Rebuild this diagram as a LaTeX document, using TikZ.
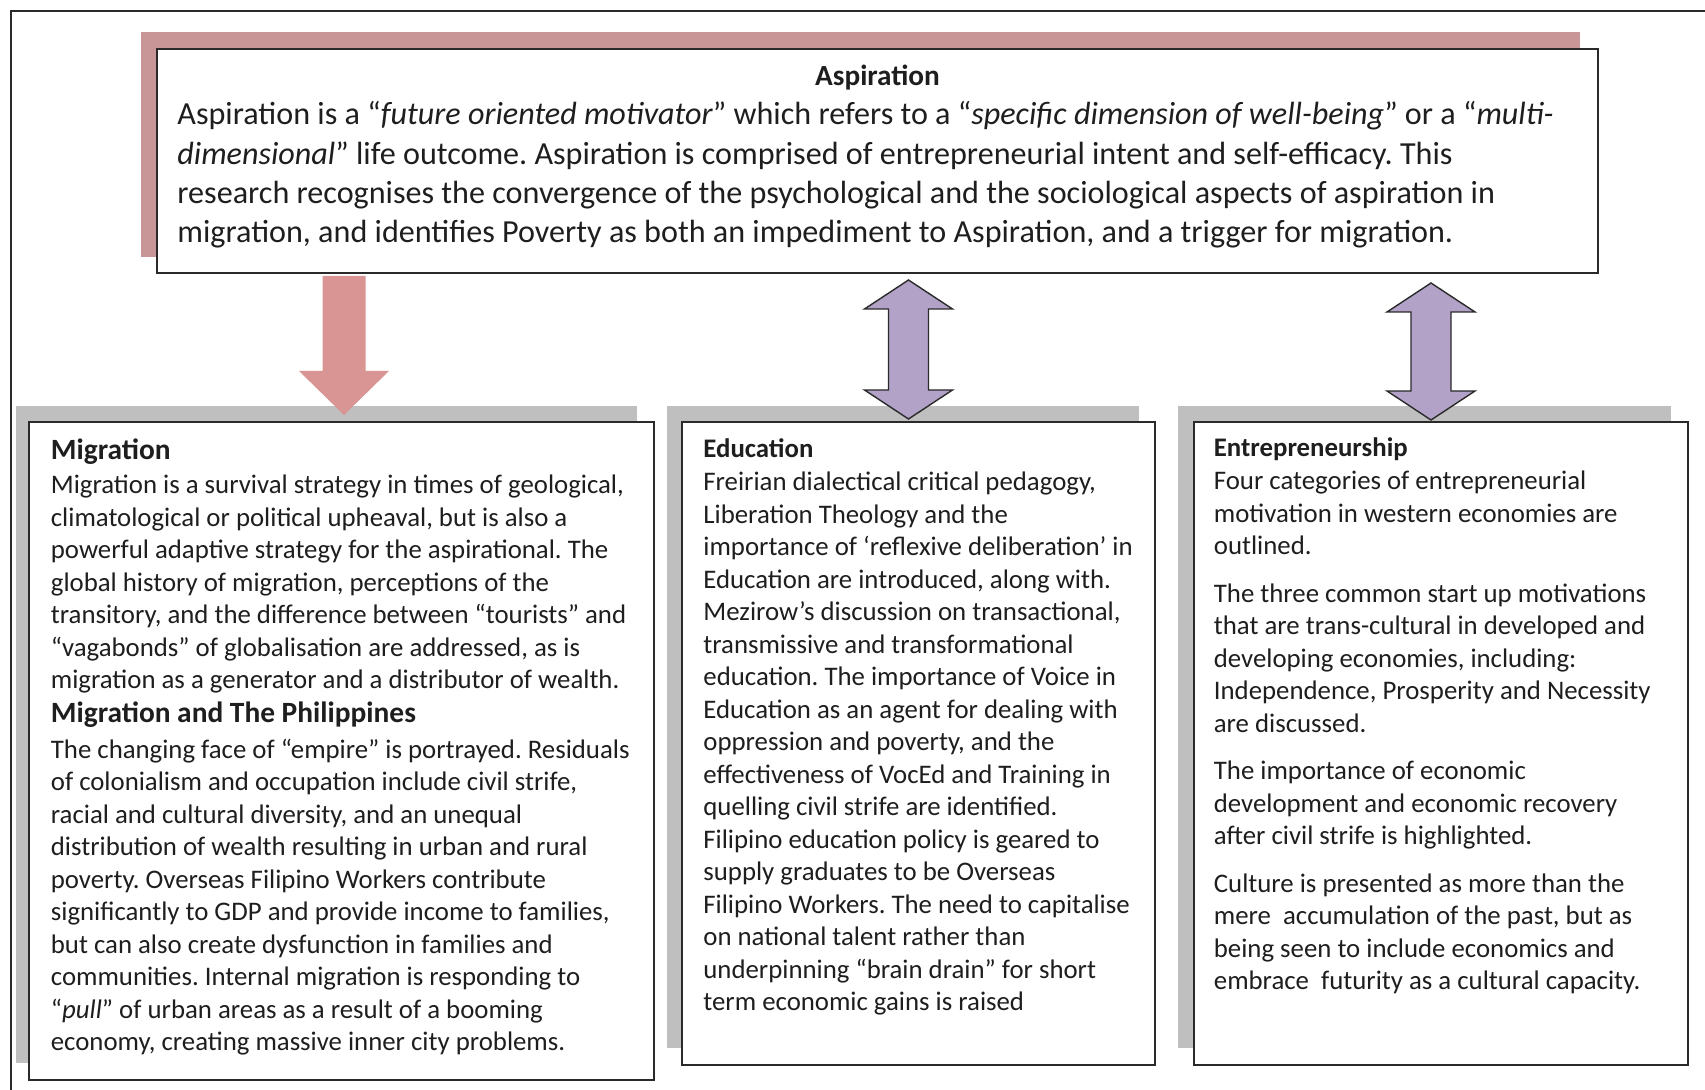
\documentclass[tikz,border=0pt]{standalone}
\usepackage{fontspec}
\setmainfont{Carlito}
\usetikzlibrary{calc,fit}
\frenchspacing

\definecolor{ink}{HTML}{1E1E1E}
\definecolor{frame}{HTML}{2A2A2A}
\definecolor{roseshadow}{HTML}{C99698}
\definecolor{rosearrow}{HTML}{D99594}
\definecolor{lilac}{HTML}{B3A2C7}
\definecolor{greyshadow}{HTML}{BFBFBF}

\newcommand\bodysize{\fontsize{13.4pt}{16.25pt}\selectfont}
\newcommand\headsize{\fontsize{14.7pt}{17.8pt}\selectfont\bfseries}
\newcommand\aspsize{\fontsize{16.07pt}{19.6pt}\selectfont}
\newcommand\linesbox[2]{\begin{minipage}[t]{#1}\raggedright\frenchspacing\noindent #2\end{minipage}}

% two-headed block arrow between a top tip and a bottom tip
\newcommand\lilacarrow[2]{%
  \draw[lilacblock] (#1) -- ($(#1)+(44,29)$) -- ($(#1)+(20,29)$)
    -- ($(#2)+(20,-29)$) -- ($(#2)+(44,-29)$) -- (#2)
    -- ($(#2)+(-44,-29)$) -- ($(#2)+(-20,-29)$)
    -- ($(#1)+(-20,29)$) -- ($(#1)+(-44,29)$) -- cycle;}

\begin{document}
\begin{tikzpicture}[x=0.5pt,y=-0.5pt,
  panel/.style={draw=frame, line width=1pt, fill=white, inner sep=0pt},
  lilacblock/.style={fill=lilac, draw=frame, line width=0.7pt, line join=miter},
  roseblock/.style={fill=rosearrow},
  txt/.style={anchor=base west, inner sep=0pt, text=ink},
  title/.style={anchor=base west, inner sep=0pt, text=ink, font=\headsize},
  subtitle/.style={anchor=base west, inner sep=0pt, text=ink, font=\bodysize\bfseries}]

\path[use as bounding box, fill=white] (0,0) rectangle (1705,1090);

% page frame (only top and left edges fall inside the page)
\draw[frame, line width=1pt] (10.5,1090) -- (10.5,11) -- (1705,11);

% ---------- Aspiration ----------
\fill[roseshadow] (141,32) rectangle (1580,257);
\node[panel, fit={(157,49) (1598,273)}] (asp) {};
\node[anchor=base, inner sep=0pt, text=ink, font=\fontsize{14.6pt}{17pt}\selectfont\bfseries]
  (asptitle) at (877.5,86) {Aspiration};
\node[txt, font=\aspsize] (asptext) at (177,125) {\linesbox{730pt}{%
Aspiration is a “\textit{future oriented motivator}” which refers to a “\textit{specific dimension of well-being}” or a “\textit{multi-}\\
\textit{dimensional}” life outcome. Aspiration is comprised of entrepreneurial intent and self-efficacy. This\\
research recognises the convergence of the psychological and the sociological aspects of aspiration in\\
migration, and identifies Poverty as both an impediment to Aspiration, and a trigger for migration.}};

% ---------- lower panels ----------
\fill[greyshadow] (16,406) rectangle (637,1063);
\fill[greyshadow] (667,406) rectangle (1139,1048);
\fill[greyshadow] (1178,406) rectangle (1671,1048);

\node[panel, fit={(29,422) (654,1080)}] (mig) {};
\node[panel, fit={(682,422) (1155,1065)}] (edu) {};
\node[panel, fit={(1194,422) (1688,1065)}] (ent) {};

% Migration
\node[title] (migtitle) at (50.5,460) {Migration};
\node[txt, font=\bodysize] (migtext) at (50.5,494) {\linesbox{380pt}{%
Migration is a survival strategy in times of geological,\\
climatological or political upheaval, but is also a\\
powerful adaptive strategy for the aspirational. The\\
global history of migration, perceptions of the\\
transitory, and the difference between “tourists” and\\
“vagabonds” of globalisation are addressed, as is\\
migration as a generator and a distributor of wealth.}};
\node[title] (phltitle) at (50.5,723) {Migration and The Philippines};
\node[txt, font=\bodysize] (phltext) at (50.5,758.5) {\linesbox{380pt}{%
The changing face of “empire” is portrayed. Residuals\\
of colonialism and occupation include civil strife,\\
racial and cultural diversity, and an unequal\\
distribution of wealth resulting in urban and rural\\
poverty. Overseas Filipino Workers contribute\\
significantly to GDP and provide income to families,\\
but can also create dysfunction in families and\\
communities. Internal migration is responding to\\
“\textit{pull}” of urban areas as a result of a booming\\
economy, creating massive inner city problems.}};

% Education
\node[subtitle] (edutitle) at (703,457.5) {Education};
\node[txt, font=\bodysize] (edutext) at (703,491) {\linesbox{300pt}{%
Freirian dialectical critical pedagogy,\\
Liberation Theology and the\\
importance of ‘reflexive deliberation’ in\\
Education are introduced, along with.\\
Mezirow’s discussion on transactional,\\
transmissive and transformational\\
education. The importance of Voice in\\
Education as an agent for dealing with\\
oppression and poverty, and the\\
effectiveness of VocEd and Training in\\
quelling civil strife are identified.\\
Filipino education policy is geared to\\
supply graduates to be Overseas\\
Filipino Workers. The need to capitalise\\
on national talent rather than\\
underpinning “brain drain” for short\\
term economic gains is raised}};

% Entrepreneurship
\node[subtitle] (enttitle) at (1213.5,457) {Entrepreneurship};
\node[txt, font=\bodysize] (enttext) at (1213.5,490) {\linesbox{300pt}{%
Four categories of entrepreneurial\\
motivation in western economies are\\
outlined.\\[7.5pt]
The three common start up motivations\\
that are trans-cultural in developed and\\
developing economies, including:\\
Independence, Prosperity and Necessity\\
are discussed.\\[7.5pt]
The importance of economic\\
development and economic recovery\\
after civil strife is highlighted.\\[7.5pt]
Culture is presented as more than the\\
mere\ \ accumulation of the past, but as\\
being seen to include economics and\\
embrace\ \ futurity as a cultural capacity.}};

% ---------- connectors ----------
% Aspiration -> Migration
\coordinate (roseT) at (344,276);
\coordinate (roseB) at (344,415);
\fill[roseblock] ($(roseT)+(-21.5,0)$) -- ($(roseT)+(21.5,0)$) -- ($(roseB)+(21.5,-44)$)
  -- ($(roseB)+(45,-44)$) -- (roseB) -- ($(roseB)+(-45,-44)$) -- ($(roseB)+(-21.5,-44)$) -- cycle;

% Aspiration <-> Education
\coordinate (eduT) at (908.5,280);
\coordinate (eduB) at (908.5,419);
\lilacarrow{eduT}{eduB}

% Aspiration <-> Entrepreneurship
\coordinate (entT) at (1431,283);
\coordinate (entB) at (1431,420);
\lilacarrow{entT}{entB}

\end{tikzpicture}
\end{document}
